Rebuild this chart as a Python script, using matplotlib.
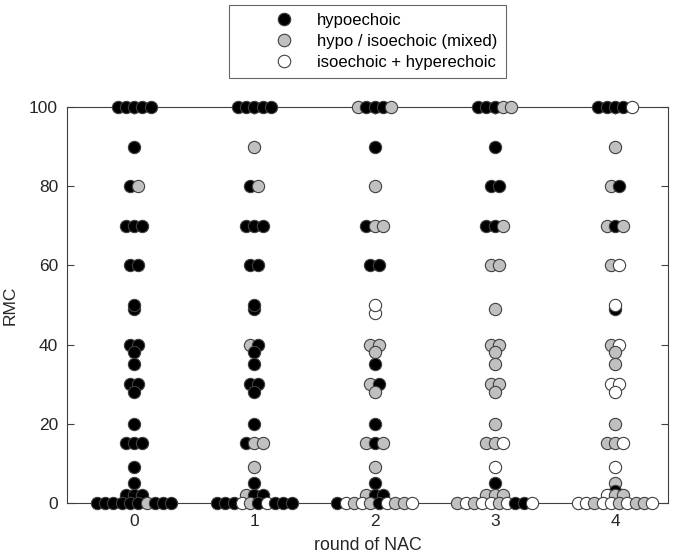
import numpy as np
import matplotlib
matplotlib.use("Agg")
import matplotlib.pyplot as plt
from matplotlib.lines import Line2D

plt.rcParams['font.family'] = ['Liberation Sans', 'DejaVu Sans']

# h = hypoechoic, m = hypo / isoechoic (mixed), i = isoechoic + hyperechoic
# values listed row by row (top to bottom), categories left to right in each row
rmc_r0 = [100, 100, 100, 100, 100, 90, 80, 80, 70, 70, 70, 60, 60, 49, 50,
          40, 40, 38, 35, 30, 30, 28, 20, 15, 15, 15, 9, 5, 2, 2, 2,
          0, 0, 0, 0, 0, 0, 0, 0, 0, 0]
cat_r0 = ['h', 'h', 'h', 'h', 'h', 'h', 'h', 'm', 'h', 'h', 'h', 'h', 'h', 'h', 'h',
          'h', 'h', 'h', 'h', 'h', 'h', 'h', 'h', 'h', 'h', 'h', 'h', 'h', 'h', 'h', 'h',
          'h', 'h', 'h', 'h', 'h', 'h', 'm', 'h', 'h', 'h']

rmc_r1 = [100, 100, 100, 100, 100, 90, 80, 80, 70, 70, 70, 60, 60, 49, 50,
          40, 40, 38, 35, 30, 30, 28, 20, 15, 15, 15, 9, 5, 2, 2, 2,
          0, 0, 0, 0, 0, 0, 0, 0, 0, 0]
cat_r1 = ['h', 'h', 'h', 'h', 'h', 'm', 'h', 'm', 'h', 'h', 'h', 'h', 'h', 'h', 'h',
          'm', 'h', 'h', 'h', 'h', 'h', 'h', 'h', 'h', 'm', 'm', 'm', 'h', 'm', 'h', 'h',
          'h', 'h', 'h', 'i', 'm', 'h', 'i', 'h', 'h', 'h']

rmc_r2 = [100, 100, 100, 100, 100, 90, 80, 70, 70, 70, 60, 60, 48, 50,
          40, 40, 38, 35, 30, 30, 28, 20, 15, 15, 15, 9, 5, 2, 2, 2,
          0, 0, 0, 0, 0, 0, 0, 0, 0, 0]
cat_r2 = ['m', 'h', 'h', 'h', 'm', 'h', 'm', 'h', 'm', 'm', 'h', 'h', 'i', 'i',
          'm', 'm', 'm', 'h', 'm', 'h', 'm', 'h', 'm', 'h', 'm', 'm', 'h', 'm', 'h', 'h',
          'h', 'i', 'm', 'i', 'm', 'h', 'i', 'm', 'm', 'i']

rmc_r3 = [100, 100, 100, 100, 100, 90, 80, 80, 70, 70, 70, 60, 60, 49,
          40, 40, 38, 35, 30, 30, 28, 20, 15, 15, 15, 9, 5, 2, 2, 2,
          0, 0, 0, 0, 0, 0, 0, 0, 0, 0]
cat_r3 = ['h', 'h', 'h', 'm', 'm', 'h', 'h', 'h', 'h', 'h', 'm', 'm', 'm', 'm',
          'm', 'm', 'm', 'm', 'm', 'm', 'm', 'm', 'm', 'm', 'i', 'i', 'h', 'm', 'm', 'm',
          'm', 'i', 'm', 'i', 'i', 'm', 'i', 'h', 'h', 'i']

rmc_r4 = [100, 100, 100, 100, 100, 90, 80, 80, 70, 70, 70, 60, 60, 49, 50,
          40, 40, 38, 35, 30, 30, 28, 20, 15, 15, 15, 9, 5, 3, 2, 2, 2,
          0, 0, 0, 0, 0, 0, 0, 0, 0, 0]
cat_r4 = ['h', 'h', 'h', 'h', 'i', 'm', 'm', 'h', 'm', 'h', 'm', 'm', 'i', 'h', 'i',
          'm', 'i', 'm', 'm', 'i', 'i', 'i', 'm', 'm', 'm', 'i', 'i', 'm', 'h', 'i', 'm', 'm',
          'i', 'i', 'm', 'i', 'i', 'm', 'i', 'm', 'm', 'i']

rounds = [0, 1, 2, 3, 4]
rmc = [rmc_r0, rmc_r1, rmc_r2, rmc_r3, rmc_r4]
cats = [cat_r0, cat_r1, cat_r2, cat_r3, cat_r4]

labels = {'h': 'hypoechoic', 'm': 'hypo / isoechoic (mixed)', 'i': 'isoechoic + hyperechoic'}
faces = {'h': 'black', 'm': '#c0c0c0', 'i': 'white'}

fig = plt.figure(figsize=(6.85, 5.6), dpi=100)
ax = fig.add_axes([0.098, 0.102, 0.877, 0.707])

step = 0.069  # horizontal gap between neighbours in a row (x units)

for r, vals, cs in zip(rounds, rmc, cats):
    vals = np.array(vals, dtype=float)
    xs = np.zeros(len(vals))
    # centre each row of equal values on the round
    for v in np.unique(vals):
        idx = np.where(vals == v)[0]
        n = len(idx)
        xs[idx] = r + (np.arange(n) - (n - 1) / 2.0) * step
    for x, y, c in zip(xs, vals, cs):
        ax.scatter(x, y, s=78, facecolor=faces[c], edgecolor='#404040',
                   linewidth=0.8, clip_on=False, zorder=3)

ax.set_xlim(-0.557, 4.44)
ax.set_ylim(0, 100)
ax.set_xticks(rounds)
ax.set_yticks([0, 20, 40, 60, 80, 100])
ax.tick_params(direction='in', top=True, right=True, length=5,
               labelsize=12.5, colors='#404040', labelcolor='#262626')
ax.tick_params(axis='x', pad=8)
ax.tick_params(axis='y', pad=6.5)
for sp in ax.spines.values():
    sp.set_color('#404040')
    sp.set_linewidth(0.8)
ax.set_xlabel('round of NAC', fontsize=12.8, color='#262626', labelpad=6)
ax.set_ylabel('RMC', fontsize=12.5, color='#262626', labelpad=8)

handles = [Line2D([], [], linestyle='none', marker='o', markersize=9,
                  markerfacecolor=faces[k], markeredgecolor='#404040',
                  markeredgewidth=0.8) for k in ['h', 'm', 'i']]
leg = ax.legend(handles, [labels[k] for k in ['h', 'm', 'i']],
                loc='lower center', bbox_to_anchor=(0.5, 1.073),
                fontsize=12, frameon=True, fancybox=False,
                edgecolor='#404040', handletextpad=-0.82, borderpad=0.5,
                labelspacing=0.35, handlelength=5.6, borderaxespad=0)
leg.get_frame().set_linewidth(0.8)

fig.savefig('out.png', dpi=100)
